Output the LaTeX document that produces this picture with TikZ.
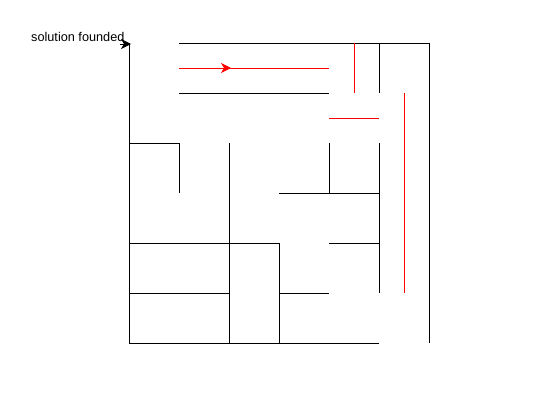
\documentclass[tikz,border=0pt]{standalone}
\usepackage{fontspec}
\setmainfont{Liberation Sans}
\usetikzlibrary{arrows.meta}
\begin{document}
\begin{tikzpicture}[x=1pt,y=-1pt,
  wall/.style={draw=black,line width=1pt},
  path/.style={draw=red,line width=1pt},
  tip/.style={-{Stealth[length=10pt,width=10pt,inset=3pt]}},
  lbl/.style={font=\fontsize{12.7}{14}\selectfont,inner sep=0pt,anchor=base west}]
\useasboundingbox (0,0) rectangle (547,402);
% outer walls
\draw[wall] (129,343) -- (129,43);
\coordinate (as) at (120,44);
\coordinate (ae) at (131,44);
\draw[wall,tip] (as) -- (ae);
\draw[wall] (179,43) -- (429,43) -- (429,343);
\draw[wall] (129,343) -- (379,343);
% inner walls
\draw[wall] (179,93) -- (329,93);
\draw[wall] (379,43) -- (379,93);
\draw[wall] (129,143) -- (179,143) -- (179,193);
\draw[wall] (229,143) -- (229,343);
\draw[wall] (329,143) -- (329,193);
\draw[wall] (379,143) -- (379,293);
\draw[wall] (279,193) -- (379,193);
\draw[wall] (129,243) -- (279,243) -- (279,343);
\draw[wall] (329,243) -- (379,243);
\draw[wall] (129,293) -- (229,293);
\draw[wall] (279,293) -- (329,293);
% solution path
\draw[path,tip] (179,68) -- (231,68);
\draw[path] (229,68) -- (329,68);
\draw[path] (354,43) -- (354,93);
\draw[path] (329,118) -- (379,118);
\draw[path] (404,93) -- (404,293);
\node[lbl] (label) at (31,41) {solution founded};
\end{tikzpicture}
\end{document}
